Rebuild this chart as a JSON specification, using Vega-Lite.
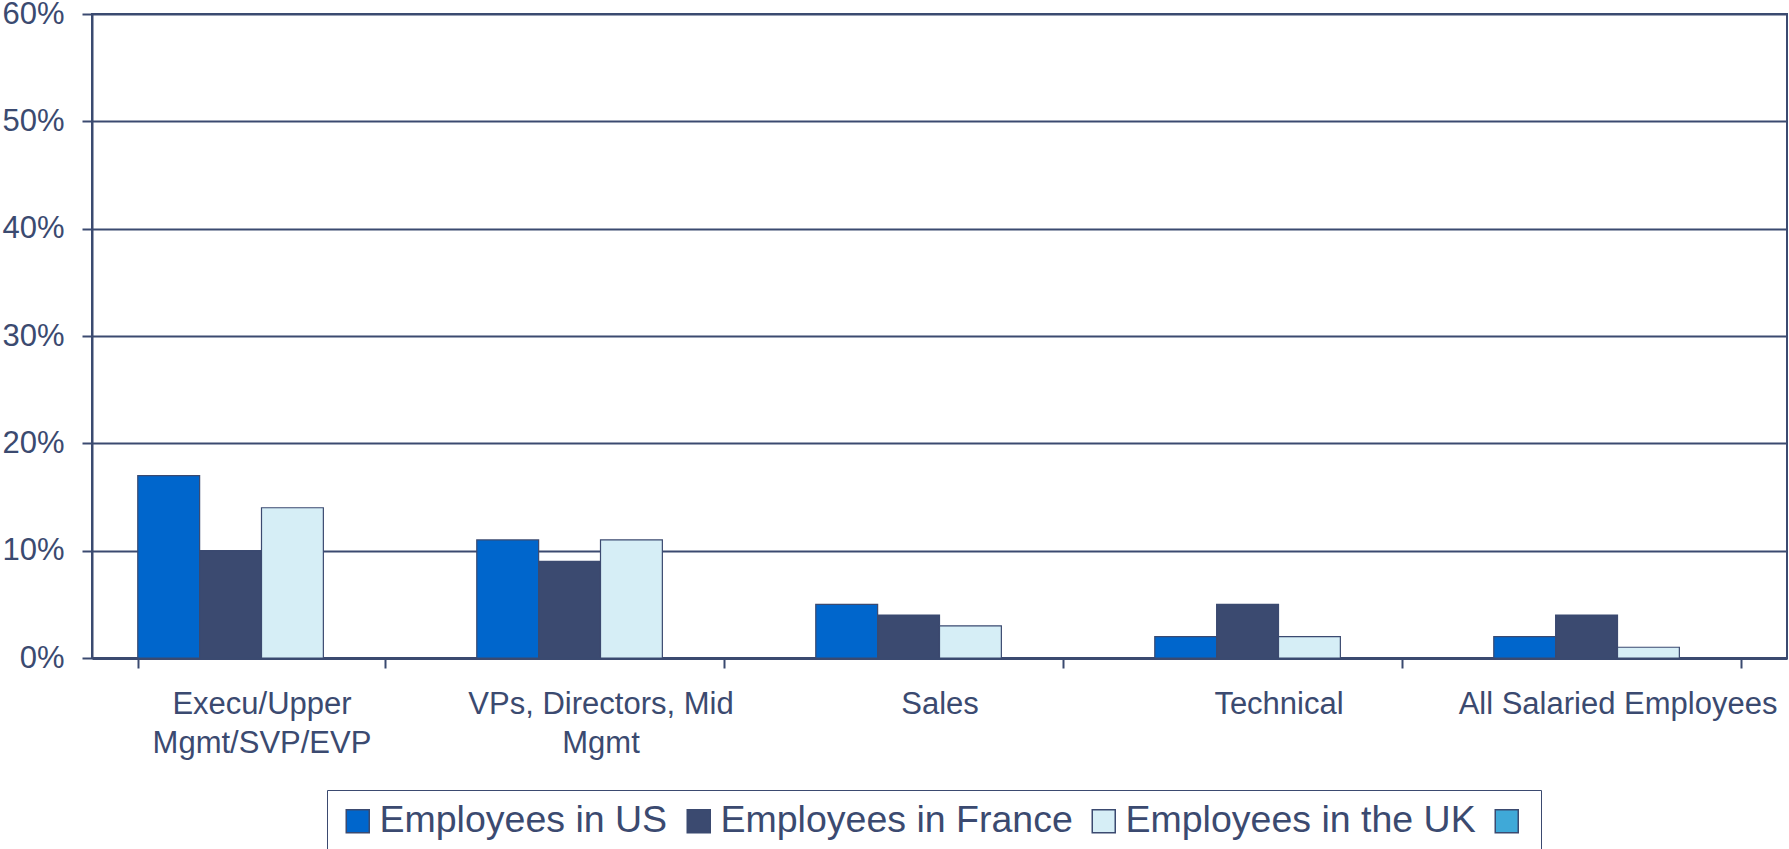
{
  "$schema": "https://vega.github.io/schema/vega-lite/v6.json",
  "width": 1695,
  "height": 644,
  "autosize": {"type": "none"},
  "padding": {"left": 92, "top": 14, "right": 2, "bottom": 191},
  "background": "white",
  "data": {
    "values": [
      {"category": "Execu/Upper Mgmt/SVP/EVP", "series": "Employees in US", "value": 0.17},
      {"category": "Execu/Upper Mgmt/SVP/EVP", "series": "Employees in France", "value": 0.10},
      {"category": "Execu/Upper Mgmt/SVP/EVP", "series": "Employees in the UK", "value": 0.14},
      {"category": "VPs, Directors, Mid Mgmt", "series": "Employees in US", "value": 0.11},
      {"category": "VPs, Directors, Mid Mgmt", "series": "Employees in France", "value": 0.09},
      {"category": "VPs, Directors, Mid Mgmt", "series": "Employees in the UK", "value": 0.11},
      {"category": "Sales", "series": "Employees in US", "value": 0.05},
      {"category": "Sales", "series": "Employees in France", "value": 0.04},
      {"category": "Sales", "series": "Employees in the UK", "value": 0.03},
      {"category": "Technical", "series": "Employees in US", "value": 0.02},
      {"category": "Technical", "series": "Employees in France", "value": 0.05},
      {"category": "Technical", "series": "Employees in the UK", "value": 0.02},
      {"category": "All Salaried Employees", "series": "Employees in US", "value": 0.02},
      {"category": "All Salaried Employees", "series": "Employees in France", "value": 0.04},
      {"category": "All Salaried Employees", "series": "Employees in the UK", "value": 0.01}
    ]
  },
  "mark": {"type": "bar", "stroke": "#3B4A70", "strokeWidth": 1.2},
  "encoding": {
    "x": {
      "field": "category",
      "type": "nominal",
      "sort": null,
      "scale": {"paddingInner": 0.27, "paddingOuter": 0.135},
      "axis": {
        "title": null,
        "labelAngle": 0,
        "tickBand": "extent",
        "tickSize": 10,
        "tickWidth": 2,
        "tickColor": "#3B4A70",
        "domainColor": "#3B4A70",
        "domainWidth": 3,
        "labelFont": "Liberation Sans",
        "labelFontSize": 31,
        "labelColor": "#3B4A70",
        "labelPadding": 21,
        "labelLineHeight": 39,
        "labelBaseline": "top",
        "labelLimit": 1000,
        "labelOverlap": false,
        "grid": false,
        "labelExpr": "datum.value == 'Execu/Upper Mgmt/SVP/EVP' ? ['Execu/Upper', 'Mgmt/SVP/EVP'] : datum.value == 'VPs, Directors, Mid Mgmt' ? ['VPs, Directors, Mid', 'Mgmt'] : datum.value"
      }
    },
    "xOffset": {
      "field": "series",
      "type": "nominal",
      "scale": {"domain": ["Employees in US", "Employees in France", "Employees in the UK", ""], "paddingInner": 0, "paddingOuter": 0}
    },
    "y": {
      "field": "value",
      "type": "quantitative",
      "scale": {"domain": [0, 0.6], "nice": false},
      "axis": {
        "title": null,
        "values": [0, 0.1, 0.2, 0.3, 0.4, 0.5, 0.6],
        "format": ".0%",
        "tickSize": 10,
        "tickWidth": 2,
        "tickColor": "#3B4A70",
        "domainColor": "#3B4A70",
        "domainWidth": 2,
        "grid": true,
        "gridColor": "#3B4A70",
        "gridWidth": 2,
        "gridOpacity": 1,
        "labelFont": "Liberation Sans",
        "labelFontSize": 31,
        "labelColor": "#3B4A70",
        "labelPadding": 18
      }
    },
    "color": {
      "field": "series",
      "type": "nominal",
      "scale": {
        "domain": ["Employees in US", "Employees in France", "Employees in the UK", ""],
        "range": ["#0066CC", "#3B4A70", "#D6EEF6", "#3FA9D8"]
      },
      "legend": {
        "title": null,
        "orient": "none",
        "legendX": 235,
        "legendY": 776,
        "direction": "horizontal",
        "columns": 4,
        "symbolType": "square",
        "symbolSize": 529,
        "symbolStrokeColor": "#3B4A70",
        "symbolStrokeWidth": 1.5,
        "symbolOpacity": 1,
        "labelFont": "Liberation Sans",
        "labelFontSize": 37.5,
        "labelColor": "#3B4A70",
        "labelLimit": 1000,
        "labelOffset": 3,
        "columnPadding": 12,
        "strokeColor": "#3B4A70",
        "padding": 12,
        "cornerRadius": 0,
        "fillColor": "white"
      }
    }
  },
  "config": {
    "view": {"stroke": "#3B4A70", "strokeWidth": 2}
  }
}
